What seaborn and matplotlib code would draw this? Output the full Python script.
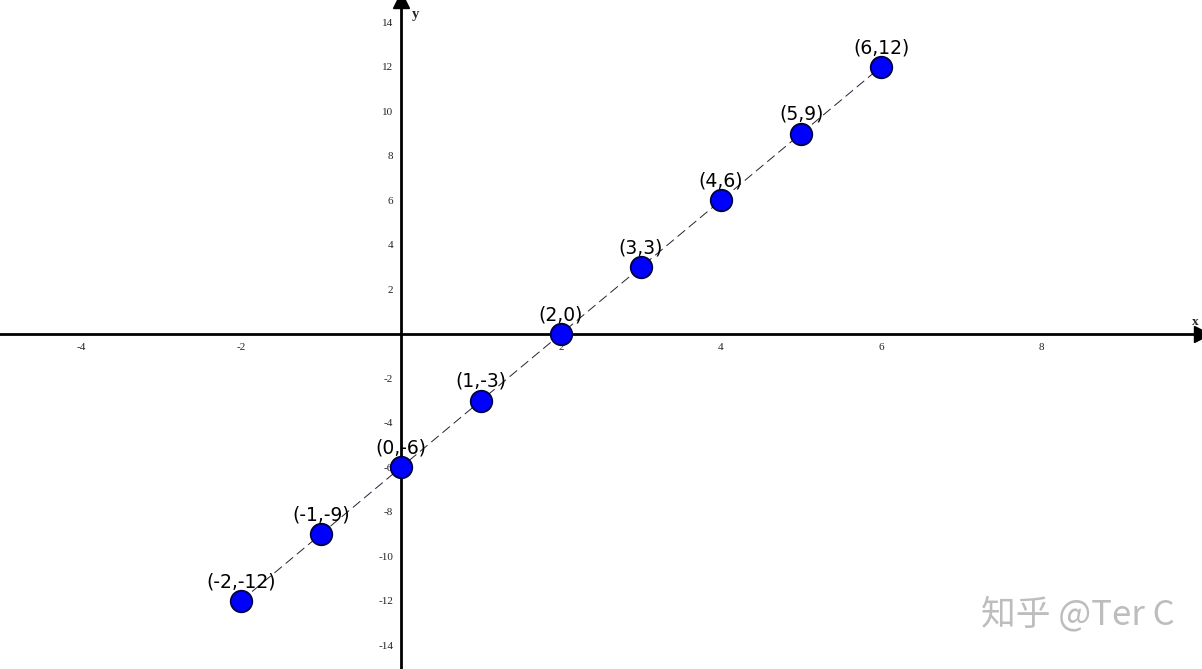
import numpy as np
import pandas as pd
import matplotlib
matplotlib.use("Agg")
import matplotlib.pyplot as plt
import seaborn as sns

# ---- datos de la recta y = 3x - 6 ----
x_vals = [-2, -1, 0, 1, 2, 3, 4, 5, 6]
y_vals = [-12, -9, -6, -3, 0, 3, 6, 9, 12]
point_labels = ["(-2,-12)", "(-1,-9)", "(0,-6)", "(1,-3)", "(2,0)",
                "(3,3)", "(4,6)", "(5,9)", "(6,12)"]
x_ticks = [-4, -2, 2, 4, 6, 8]
y_ticks = [-14, -12, -10, -8, -6, -4, -2, 2, 4, 6, 8, 10, 12, 14]

df = pd.DataFrame({"x": x_vals, "y": y_vals, "label": point_labels})

sns.set_style("white")
plt.rcParams["font.family"] = ["DejaVu Sans"]

fig = plt.figure(figsize=(12.02, 6.69), dpi=100)
ax = fig.add_axes([0, 0, 1, 1])

# línea discontinua
sns.lineplot(data=df, x="x", y="y", ax=ax, color="#222233", linewidth=0.7,
             zorder=2)
ax.lines[0].set_dashes([10, 5])

# puntos
sns.scatterplot(data=df, x="x", y="y", ax=ax, s=240, color="#0000ff",
                edgecolor="#000040", linewidth=1.3, zorder=4)

for _, row in df.iterrows():
    ax.annotate(row["label"], (row["x"], row["y"]), xytext=(0, 7),
                textcoords="offset points", ha="center", va="bottom",
                fontsize=13.5, color="black", zorder=5)

ax.set_xlim(-5.01, 10.01)
ax.set_ylim(-15.06, 15.0)

# ejes por el origen
for side in ["top", "right"]:
    ax.spines[side].set_visible(False)
for side in ["left", "bottom"]:
    ax.spines[side].set_position(("data", 0))
    ax.spines[side].set_linewidth(2.0)
    ax.spines[side].set_color("black")
    ax.spines[side].set_zorder(3)

ax.set_xticks(x_ticks)
ax.set_yticks(y_ticks)
ax.set_xticklabels([str(t) for t in x_ticks], family="Liberation Serif",
                   fontsize=8, color="#222222")
ax.set_yticklabels([str(t) for t in y_ticks], family="Liberation Serif",
                   fontsize=8, color="#222222")
ax.tick_params(axis="both", direction="inout", length=9, width=1, color="black")
ax.tick_params(axis="x", pad=2)
ax.tick_params(axis="y", pad=1)
ax.set_xlabel("")
ax.set_ylabel("")

# flechas
ax.plot(1, 0, ">", color="black", markersize=11,
        transform=ax.get_yaxis_transform(), clip_on=False, zorder=6)
ax.plot(0, 1, "^", color="black", markersize=11,
        transform=ax.get_xaxis_transform(), clip_on=False, zorder=6)
ax.text(0.994, 0.51, "x", transform=ax.transAxes, family="Liberation Serif",
        fontsize=9.5, fontweight="bold", ha="center", va="bottom")
ax.text(0.346, 0.988, "y", transform=ax.transAxes, family="Liberation Serif",
        fontsize=10.5, fontweight="bold", ha="center", va="top")

# marca de agua
fig.text(0.977, 0.055, "知乎 @Ter C", ha="right", va="bottom", fontsize=25,
         color="#bdbdbd", family=["Noto Sans CJK SC", "DejaVu Sans"])

fig.savefig("out.png", dpi=100)
plt.close(fig)
